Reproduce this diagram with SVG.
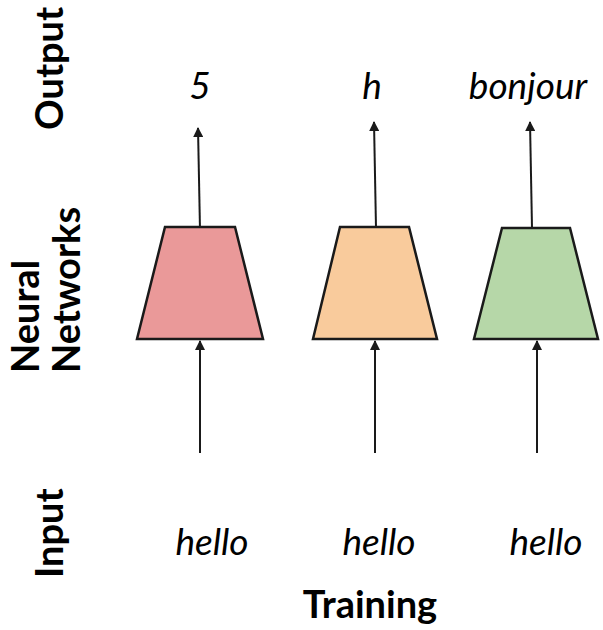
<svg xmlns="http://www.w3.org/2000/svg" width="603" height="630" viewBox="0 0 603 630">
<defs>
<style>
.nn{stroke:#1a1a1a;stroke-width:2.5;stroke-linejoin:miter}
.lab{font-family:Lato,"Liberation Sans",sans-serif;font-style:italic;font-size:37px;fill:#000;text-anchor:middle}
.ax{font-family:Lato,"Liberation Sans",sans-serif;font-weight:bold;font-size:38px;fill:#000}
.arr{stroke:#1a1a1a;stroke-width:2;fill:none;marker-end:url(#ah)}
</style>
<marker id="ah" viewBox="0 0 10 10" refX="9" refY="5" markerWidth="5" markerHeight="5" markerUnits="strokeWidth" orient="auto">
<path d="M0,0 L10,5 L0,10 z" fill="#1a1a1a"/>
</marker>
</defs>
<rect width="603" height="630" fill="#fff"/>
<g id="axis-labels">
<text class="ax" transform="translate(63,130) rotate(-90)">Output</text>
<text class="ax" transform="translate(39,373) rotate(-90)">Neural</text>
<text class="ax" transform="translate(80,373) rotate(-90)">Networks</text>
<text class="ax" transform="translate(63,578) rotate(-90)">Input</text>
<text class="ax" x="370" y="618" text-anchor="middle">Training</text>
</g>
<g id="connectors">
<line class="arr" x1="200" y1="453" x2="200" y2="341"/>
<line class="arr" x1="375" y1="453" x2="375" y2="341"/>
<line class="arr" x1="537" y1="453" x2="537" y2="341"/>
<line class="arr" x1="200" y1="230" x2="198" y2="128"/>
<line class="arr" x1="376" y1="228" x2="374" y2="122"/>
<line class="arr" x1="532" y1="228" x2="530" y2="122"/>
</g>
<g id="nn1"><polygon class="nn" points="165,227 235,227 263,339 137,339" fill="#EA9999"/></g>
<g id="nn2"><polygon class="nn" points="340,227 409,227 437,339 313,339" fill="#F9CB9C"/></g>
<g id="nn3"><polygon class="nn" points="502,228 570,228 598,339 474,339" fill="#B6D7A8"/></g>
<g id="outputs">
<text class="lab" x="200" y="99">5</text>
<text class="lab" x="372" y="99">h</text>
<text class="lab" x="528" y="99">bonjour</text>
</g>
<g id="inputs">
<text class="lab" x="212" y="555">hello</text>
<text class="lab" x="379" y="555">hello</text>
<text class="lab" x="546" y="555">hello</text>
</g>
</svg>
